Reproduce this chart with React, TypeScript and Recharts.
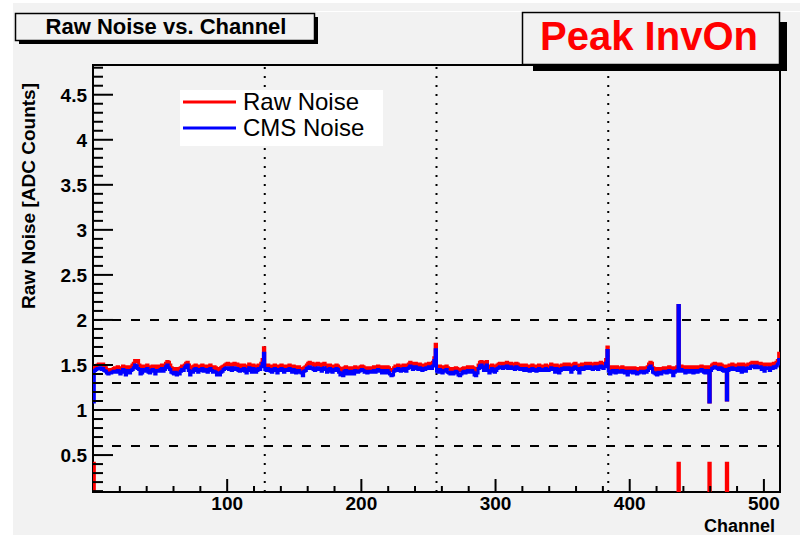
import { ComposedChart, Line, XAxis, YAxis, ReferenceLine, ReferenceArea } from 'recharts';

// raw noise per channel, one array per APV (128 strips each)
const rawApv1 = [
  1.47, 1.48, 1.49, 1.50, 1.51, 1.50, 1.50, 1.51, 1.49, 1.47, 1.45, 1.44, 1.45, 1.44, 1.45, 1.46,
  1.47, 1.46, 1.48, 1.47, 1.46, 1.47, 1.49, 1.47, 1.46, 1.48, 1.47, 1.45, 1.48, 1.50, 1.52, 1.55,
  1.54, 1.55, 1.50, 1.48, 1.46, 1.49, 1.47, 1.48, 1.50, 1.47, 1.46, 1.48, 1.49, 1.47, 1.46, 1.49,
  1.48, 1.47, 1.49, 1.50, 1.48, 1.49, 1.52, 1.54, 1.53, 1.50, 1.47, 1.46, 1.45, 1.46, 1.44, 1.46,
  1.45, 1.47, 1.49, 1.48, 1.50, 1.52, 1.53, 1.50, 1.47, 1.48, 1.46, 1.49, 1.50, 1.48, 1.47, 1.49,
  1.48, 1.50, 1.47, 1.49, 1.48, 1.47, 1.49, 1.50, 1.48, 1.46, 1.48, 1.47, 1.45, 1.46, 1.44, 1.47,
  1.48, 1.49, 1.50, 1.51, 1.52, 1.50, 1.51, 1.49, 1.50, 1.52, 1.50, 1.51, 1.49, 1.48, 1.50, 1.49,
  1.50, 1.48, 1.47, 1.49, 1.51, 1.48, 1.47, 1.50, 1.49, 1.47, 1.48, 1.50, 1.49, 1.52, 1.56, 1.69,
];
const rawApv2 = [
  1.49, 1.48, 1.50, 1.49, 1.48, 1.47, 1.49, 1.50, 1.48, 1.47, 1.49, 1.48, 1.50, 1.48, 1.47, 1.49,
  1.48, 1.49, 1.50, 1.48, 1.47, 1.49, 1.48, 1.46, 1.47, 1.48, 1.46, 1.45, 1.44, 1.47, 1.48, 1.50,
  1.52, 1.53, 1.51, 1.52, 1.50, 1.49, 1.51, 1.52, 1.50, 1.51, 1.49, 1.50, 1.52, 1.50, 1.48, 1.49,
  1.50, 1.48, 1.47, 1.49, 1.48, 1.50, 1.49, 1.47, 1.45, 1.46, 1.44, 1.47, 1.48, 1.46, 1.47, 1.45,
  1.46, 1.47, 1.45, 1.48, 1.47, 1.46, 1.47, 1.48, 1.49, 1.48, 1.46, 1.47, 1.45, 1.46, 1.47, 1.46,
  1.47, 1.48, 1.46, 1.47, 1.49, 1.48, 1.47, 1.46, 1.48, 1.47, 1.46, 1.48, 1.47, 1.45, 1.44, 1.45,
  1.47, 1.49, 1.48, 1.50, 1.49, 1.47, 1.48, 1.50, 1.49, 1.48, 1.50, 1.51, 1.53, 1.52, 1.50, 1.51,
  1.52, 1.50, 1.49, 1.51, 1.50, 1.48, 1.50, 1.49, 1.51, 1.50, 1.52, 1.51, 1.50, 1.53, 1.58, 1.73,
];
const rawApv3 = [
  1.48, 1.47, 1.49, 1.48, 1.46, 1.47, 1.48, 1.49, 1.47, 1.46, 1.45, 1.46, 1.44, 1.45, 1.47, 1.46,
  1.44, 1.45, 1.44, 1.46, 1.47, 1.45, 1.46, 1.48, 1.47, 1.46, 1.48, 1.47, 1.45, 1.44, 1.46, 1.50,
  1.53, 1.54, 1.52, 1.50, 1.53, 1.54, 1.49, 1.47, 1.48, 1.50, 1.49, 1.47, 1.48, 1.50, 1.51, 1.52,
  1.51, 1.50, 1.52, 1.51, 1.53, 1.50, 1.51, 1.52, 1.50, 1.51, 1.49, 1.52, 1.51, 1.50, 1.49, 1.50,
  1.49, 1.48, 1.50, 1.49, 1.48, 1.47, 1.49, 1.50, 1.48, 1.49, 1.47, 1.48, 1.50, 1.49, 1.48, 1.49,
  1.48, 1.50, 1.49, 1.48, 1.49, 1.51, 1.50, 1.49, 1.48, 1.50, 1.49, 1.47, 1.48, 1.50, 1.49, 1.51,
  1.50, 1.49, 1.51, 1.50, 1.48, 1.49, 1.51, 1.52, 1.50, 1.49, 1.48, 1.50, 1.51, 1.49, 1.50, 1.52,
  1.51, 1.50, 1.52, 1.51, 1.49, 1.50, 1.52, 1.51, 1.50, 1.52, 1.53, 1.51, 1.50, 1.52, 1.56, 1.70,
];
const rawApv4 = [
  1.48, 1.47, 1.46, 1.48, 1.47, 1.46, 1.48, 1.47, 1.46, 1.47, 1.48, 1.46, 1.45, 1.47, 1.45, 1.46,
  1.47, 1.46, 1.45, 1.47, 1.46, 1.44, 1.45, 1.46, 1.47, 1.46, 1.45, 1.47, 1.46, 1.48, 1.51, 1.53,
  1.52, 1.47, 1.46, 1.45, 1.44, 1.46, 1.45, 1.44, 1.46, 1.47, 1.46, 1.45, 1.47, 1.48, 1.46, 1.47,
  1.45, 1.46, 1.47, 1.48, 2.16, 1.47, 1.49, 1.48, 1.47, 1.46, 1.48, 1.47, 1.46, 1.48, 1.47, 1.46,
  1.48, 1.47, 1.46, 1.48, 1.47, 1.49, 1.48, 1.47, 1.46, 1.48, 1.47, 1.09, 1.48, 1.50, 1.51, 1.52,
  1.51, 1.50, 1.49, 1.51, 1.50, 1.48, 1.47, 1.49, 1.11, 1.48, 1.50, 1.49, 1.51, 1.50, 1.49, 1.50,
  1.49, 1.51, 1.50, 1.49, 1.51, 1.50, 1.49, 1.50, 1.51, 1.50, 1.52, 1.53, 1.52, 1.51, 1.53, 1.52,
  1.51, 1.52, 1.50, 1.51, 1.49, 1.50, 1.51, 1.50, 1.49, 1.51, 1.50, 1.52, 1.51, 1.53, 1.55, 1.63,
];

// common-mode subtracted noise
const cmsApv1 = [
  1.09, 1.44, 1.45, 1.46, 1.46, 1.47, 1.45, 1.46, 1.44, 1.43, 1.41, 1.40, 1.41, 1.41, 1.42, 1.43,
  1.43, 1.42, 1.44, 1.43, 1.40, 1.43, 1.45, 1.42, 1.39, 1.44, 1.43, 1.41, 1.44, 1.45, 1.47, 1.50,
  1.49, 1.46, 1.45, 1.40, 1.41, 1.45, 1.43, 1.44, 1.46, 1.42, 1.41, 1.44, 1.45, 1.43, 1.40, 1.44,
  1.44, 1.43, 1.45, 1.46, 1.43, 1.45, 1.48, 1.50, 1.47, 1.45, 1.42, 1.41, 1.40, 1.42, 1.39, 1.41,
  1.40, 1.43, 1.45, 1.44, 1.47, 1.49, 1.50, 1.44, 1.39, 1.43, 1.42, 1.45, 1.46, 1.44, 1.42, 1.45,
  1.44, 1.46, 1.43, 1.45, 1.44, 1.42, 1.45, 1.46, 1.44, 1.42, 1.43, 1.42, 1.39, 1.41, 1.39, 1.42,
  1.43, 1.45, 1.46, 1.47, 1.47, 1.45, 1.47, 1.44, 1.46, 1.47, 1.45, 1.46, 1.44, 1.43, 1.45, 1.44,
  1.46, 1.43, 1.41, 1.45, 1.47, 1.44, 1.42, 1.46, 1.45, 1.42, 1.44, 1.46, 1.45, 1.48, 1.52, 1.63,
];
const cmsApv2 = [
  1.45, 1.44, 1.46, 1.45, 1.43, 1.42, 1.45, 1.46, 1.44, 1.41, 1.45, 1.44, 1.46, 1.44, 1.42, 1.45,
  1.44, 1.45, 1.46, 1.44, 1.42, 1.45, 1.44, 1.41, 1.43, 1.44, 1.42, 1.41, 1.38, 1.43, 1.44, 1.46,
  1.47, 1.48, 1.46, 1.47, 1.45, 1.44, 1.46, 1.47, 1.45, 1.46, 1.43, 1.45, 1.47, 1.45, 1.42, 1.44,
  1.46, 1.43, 1.42, 1.45, 1.44, 1.46, 1.45, 1.42, 1.39, 1.41, 1.38, 1.43, 1.44, 1.40, 1.43, 1.40,
  1.42, 1.43, 1.40, 1.44, 1.43, 1.42, 1.43, 1.44, 1.45, 1.44, 1.42, 1.43, 1.41, 1.42, 1.43, 1.42,
  1.43, 1.44, 1.42, 1.43, 1.45, 1.44, 1.43, 1.41, 1.44, 1.43, 1.41, 1.44, 1.42, 1.40, 1.38, 1.39,
  1.43, 1.45, 1.44, 1.46, 1.45, 1.43, 1.44, 1.46, 1.45, 1.43, 1.46, 1.47, 1.49, 1.48, 1.45, 1.47,
  1.48, 1.46, 1.45, 1.47, 1.46, 1.44, 1.46, 1.45, 1.47, 1.46, 1.48, 1.47, 1.46, 1.49, 1.55, 1.67,
];
const cmsApv3 = [
  1.43, 1.42, 1.45, 1.44, 1.41, 1.43, 1.44, 1.45, 1.42, 1.41, 1.40, 1.42, 1.40, 1.41, 1.43, 1.42,
  1.39, 1.38, 1.40, 1.42, 1.43, 1.41, 1.42, 1.44, 1.43, 1.42, 1.44, 1.42, 1.39, 1.38, 1.41, 1.46,
  1.49, 1.50, 1.47, 1.44, 1.48, 1.50, 1.44, 1.41, 1.43, 1.46, 1.45, 1.42, 1.44, 1.46, 1.47, 1.48,
  1.47, 1.46, 1.48, 1.47, 1.49, 1.46, 1.47, 1.48, 1.46, 1.47, 1.45, 1.48, 1.47, 1.46, 1.45, 1.46,
  1.45, 1.44, 1.46, 1.45, 1.44, 1.43, 1.45, 1.46, 1.44, 1.45, 1.43, 1.44, 1.46, 1.45, 1.44, 1.45,
  1.44, 1.46, 1.45, 1.44, 1.45, 1.47, 1.46, 1.45, 1.42, 1.46, 1.45, 1.41, 1.44, 1.46, 1.45, 1.47,
  1.46, 1.45, 1.47, 1.46, 1.42, 1.45, 1.47, 1.48, 1.46, 1.45, 1.41, 1.46, 1.47, 1.45, 1.46, 1.48,
  1.47, 1.46, 1.48, 1.47, 1.45, 1.46, 1.48, 1.47, 1.45, 1.48, 1.49, 1.47, 1.46, 1.48, 1.52, 1.66,
];
const cmsApv4 = [
  1.43, 1.40, 1.42, 1.44, 1.43, 1.41, 1.44, 1.43, 1.42, 1.43, 1.44, 1.42, 1.41, 1.43, 1.39, 1.42,
  1.43, 1.42, 1.41, 1.43, 1.42, 1.40, 1.41, 1.42, 1.43, 1.42, 1.41, 1.43, 1.42, 1.44, 1.47, 1.49,
  1.46, 1.42, 1.41, 1.40, 1.39, 1.42, 1.41, 1.40, 1.42, 1.43, 1.42, 1.41, 1.43, 1.44, 1.42, 1.43,
  1.38, 1.42, 1.43, 1.44, 2.16, 1.43, 1.45, 1.44, 1.43, 1.41, 1.44, 1.43, 1.42, 1.44, 1.43, 1.41,
  1.44, 1.43, 1.42, 1.44, 1.43, 1.45, 1.44, 1.42, 1.41, 1.44, 1.42, 1.09, 1.44, 1.46, 1.47, 1.48,
  1.47, 1.46, 1.45, 1.47, 1.46, 1.44, 1.43, 1.45, 1.11, 1.44, 1.46, 1.45, 1.47, 1.46, 1.45, 1.46,
  1.44, 1.47, 1.46, 1.42, 1.47, 1.46, 1.43, 1.46, 1.47, 1.46, 1.48, 1.49, 1.48, 1.47, 1.49, 1.48,
  1.47, 1.48, 1.45, 1.47, 1.43, 1.46, 1.47, 1.46, 1.44, 1.47, 1.46, 1.48, 1.47, 1.49, 1.51, 1.56,
];

const flaggedChannels = [0, 436, 459, 472];
const flagLevel = 0.41;
const apvEdges = [128, 256, 384];
const cutLevels = [2, 1.3, 1, 0.6];

const xMajorTicks = [100, 200, 300, 400, 500];
const xMinorTicks = [20, 40, 60, 80, 120, 140, 160, 180, 220, 240, 260, 280, 320, 340, 360, 380, 420, 440, 460, 480];
const yMajorTicks = [0.5, 1, 1.5, 2, 2.5, 3, 3.5, 4, 4.5];
const yMinorTicks = [
  0.1, 0.2, 0.3, 0.4, 0.6, 0.7, 0.8, 0.9, 1.1, 1.2, 1.3, 1.4, 1.6, 1.7, 1.8, 1.9,
  2.1, 2.2, 2.3, 2.4, 2.6, 2.7, 2.8, 2.9, 3.1, 3.2, 3.3, 3.4, 3.6, 3.7, 3.8, 3.9,
  4.1, 4.2, 4.3, 4.4, 4.6, 4.7, 4.8,
];
const yDomain: [number, number] = [0.09, 4.83];
const xDomain: [number, number] = [0, 512];

const rawNoise = [...rawApv1, ...rawApv2, ...rawApv3, ...rawApv4];
const cmsNoise = [...cmsApv1, ...cmsApv2, ...cmsApv3, ...cmsApv4];

const rows = rawNoise.map((raw, ch) => ({
  ch,
  raw,
  cms: cmsNoise[ch],
  flag: flaggedChannels.includes(ch) ? flagLevel : 0,
}));
// closing edge of the last bin
rows.push({ ch: rawNoise.length, raw: rawNoise[rawNoise.length - 1], cms: cmsNoise[cmsNoise.length - 1], flag: 0 });

const FONT = '"Liberation Sans", Arial, Helvetica, sans-serif';
const BG = '#f2f2f2';
const AXIS_FONT = 19;

function XTick(props: any) {
  const { x, y, payload } = props;
  const major = xMajorTicks.includes(payload.value);
  return (
    <g>
      <line x1={x} y1={y} x2={x} y2={y - (major ? 13 : 6)} stroke="#000" strokeWidth={2} />
      {major && (
        <text x={x} y={y + 18} textAnchor="middle" fontFamily={FONT} fontWeight="bold" fontSize={AXIS_FONT} fill="#000">
          {payload.value}
        </text>
      )}
    </g>
  );
}

function YTick(props: any) {
  const { x, y, payload } = props;
  const major = yMajorTicks.includes(payload.value);
  return (
    <g>
      <line x1={x} y1={y} x2={x + (major ? 20 : 10)} y2={y} stroke="#000" strokeWidth={2} />
      {major && (
        <text x={x - 6} y={y + 7} textAnchor="end" fontFamily={FONT} fontWeight="bold" fontSize={AXIS_FONT} fill="#000">
          {payload.value}
        </text>
      )}
    </g>
  );
}

export default function App() {
  return (
    <div style={{ position: 'absolute', left: 0, top: 0, width: 800, height: 535, background: '#fff', overflow: 'hidden' }}>
      <div style={{ position: 'absolute', left: 13, top: 3, width: 787, height: 532, background: BG }} />
      <div style={{ position: 'absolute', left: 0, top: 0 }}>
        <ComposedChart width={800} height={535} data={rows} margin={{ top: 65, right: 20, bottom: 0, left: 0 }}>
          <XAxis
            dataKey="ch"
            type="number"
            domain={xDomain}
            allowDataOverflow
            ticks={[...xMinorTicks, ...xMajorTicks]}
            interval={0}
            height={43}
            tickSize={0}
            tickMargin={0}
            axisLine={false}
            tick={<XTick />}
          />
          <YAxis
            type="number"
            domain={yDomain}
            allowDataOverflow
            ticks={[...yMinorTicks, ...yMajorTicks]}
            interval={0}
            width={93}
            tickSize={0}
            tickMargin={0}
            axisLine={false}
            tick={<YTick />}
          />
          {cutLevels.map((v) => (
            <ReferenceLine key={'h' + v} y={v} stroke="#000" strokeWidth={2} strokeDasharray="9 10" />
          ))}
          {apvEdges.map((v) => (
            <ReferenceLine key={'v' + v} x={v} stroke="#000" strokeWidth={2} strokeDasharray="2 7" />
          ))}
          <Line dataKey="flag" type="stepAfter" stroke="#ff0000" strokeWidth={3} dot={false} activeDot={false} isAnimationActive={false} />
          <Line dataKey="raw" type="stepAfter" stroke="#ff0000" strokeWidth={3} dot={false} activeDot={false} isAnimationActive={false} />
          <Line dataKey="cms" type="stepAfter" stroke="#0000ff" strokeWidth={3} dot={false} activeDot={false} isAnimationActive={false} />
          <ReferenceArea x1={xDomain[0]} x2={xDomain[1]} y1={yDomain[0]} y2={yDomain[1]} fill="none" stroke="#000" strokeWidth={2} />
        </ComposedChart>
      </div>
      <svg width={800} height={535} style={{ position: 'absolute', left: 0, top: 0, pointerEvents: 'none' }}>
        <line x1={316} y1={11.5} x2={800} y2={11.5} stroke="#fff" strokeWidth={1} />
        {/* title box */}
        <rect x={19} y={17} width={299} height={27} fill="#000" />
        <rect x={15.5} y={13.5} width={299} height={27} fill={BG} stroke="#000" strokeWidth={1.5} />
        <text x={166} y={33.5} textAnchor="middle" fontFamily={FONT} fontWeight="bold" fontSize={22} fill="#000">
          Raw Noise vs. Channel
        </text>
        {/* run label */}
        <rect x={533} y={22} width={254} height={49} fill="#000" />
        <rect x={522.5} y={12.5} width={257} height={52} fill={BG} stroke="#000" strokeWidth={1.5} />
        <text x={649} y={50} textAnchor="middle" fontFamily={FONT} fontWeight="bold" fontSize={40} fill="#ff0000">
          Peak InvOn
        </text>
        {/* legend */}
        <rect x={180} y={90} width={203} height={56} fill="#fff" />
        <line x1={183} y1={102} x2={236} y2={102} stroke="#ff0000" strokeWidth={3} />
        <text x={243} y={110} fontFamily={FONT} fontSize={24} fill="#000">Raw Noise</text>
        <line x1={183} y1={128} x2={236} y2={128} stroke="#0000ff" strokeWidth={3} />
        <text x={243} y={136} fontFamily={FONT} fontSize={24} fill="#000">CMS Noise</text>
        {/* axis titles */}
        <text x={775} y={532} textAnchor="end" fontFamily={FONT} fontWeight="bold" fontSize={18} fill="#000">Channel</text>
        <text
          transform="translate(35, 83) rotate(-90)"
          textAnchor="end"
          fontFamily={FONT}
          fontWeight="bold"
          fontSize={AXIS_FONT}
          fill="#000"
        >
          Raw Noise [ADC Counts]
        </text>
      </svg>
    </div>
  );
}
